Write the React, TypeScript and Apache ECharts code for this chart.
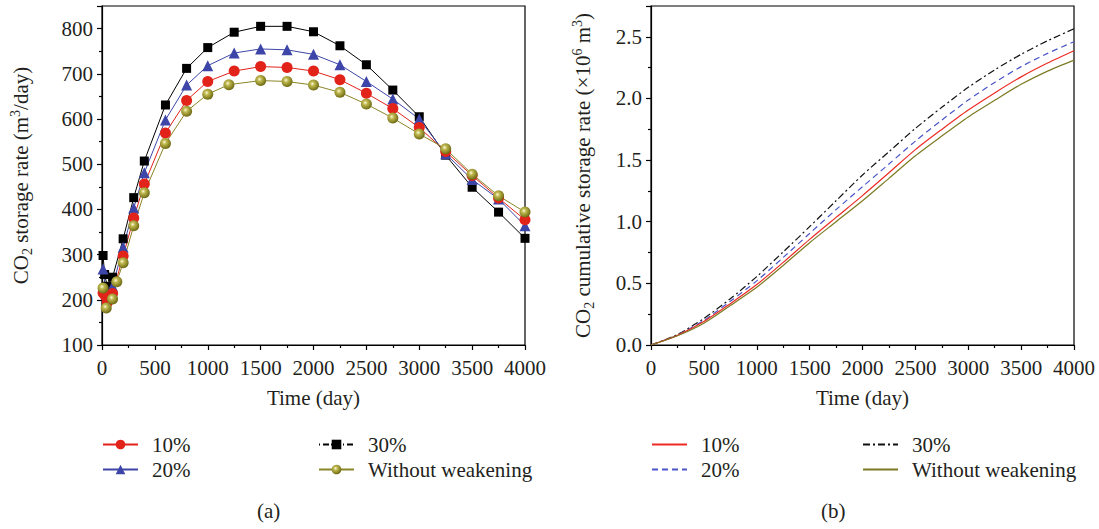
import React, { useEffect, useRef } from 'react';
import * as echarts from 'echarts';

// ---- (a) CO2 storage rate (m3/day) ----
const time30 = [10, 25, 50, 100, 200, 300, 400, 600, 800, 1000, 1250, 1500, 1750, 2000, 2250, 2500, 2750, 3000, 3250, 3500, 3750, 4000];
const rate30 = [298, 256, 230, 250, 335, 426, 507, 631, 712, 758, 792, 805, 805, 793, 762, 720, 664, 605, 520, 449, 394, 336];

const time20 = [10, 40, 100, 200, 300, 400, 600, 800, 1000, 1250, 1500, 1750, 2000, 2250, 2500, 2750, 3000, 3250, 3500, 3750, 4000];
const rate20 = [268, 211, 230, 316, 403, 481, 598, 675, 718, 746, 755, 753, 743, 720, 683, 644, 600, 523, 466, 423, 364];

const time10 = [10, 30, 50, 100, 200, 300, 400, 600, 800, 1000, 1250, 1500, 1750, 2000, 2250, 2500, 2750, 3000, 3250, 3500, 3750, 4000];
const rate10 = [215, 209, 194, 214, 297, 381, 456, 569, 641, 683, 706, 716, 714, 706, 687, 657, 623, 581, 528, 475, 425, 377];

const time0 = [10, 40, 100, 140, 200, 300, 400, 600, 800, 1000, 1200, 1500, 1750, 2000, 2250, 2500, 2750, 3000, 3250, 3500, 3750, 4000];
const rate0 = [226, 182, 202, 240, 282, 364, 437, 546, 617, 655, 676, 685, 683, 675, 659, 633, 602, 567, 534, 478, 430, 394];

// ---- (b) CO2 cumulative storage (x10^6 m3) ----
const cumTime = [0, 250, 500, 750, 1000, 1250, 1500, 1750, 2000, 2250, 2500, 2750, 3000, 3250, 3500, 3750, 4000];
const cum30 = [0, 0.085, 0.215, 0.375, 0.555, 0.755, 0.96, 1.17, 1.379, 1.568, 1.757, 1.928, 2.09, 2.232, 2.358, 2.468, 2.565];
const cum20 = [0, 0.08, 0.2, 0.355, 0.52, 0.71, 0.905, 1.098, 1.284, 1.468, 1.654, 1.825, 1.987, 2.13, 2.258, 2.366, 2.46];
const cum10 = [0, 0.078, 0.19, 0.335, 0.49, 0.67, 0.857, 1.035, 1.212, 1.397, 1.585, 1.749, 1.906, 2.045, 2.175, 2.287, 2.387];
const cum0 = [0, 0.075, 0.177, 0.32, 0.468, 0.645, 0.83, 1.0, 1.17, 1.352, 1.535, 1.695, 1.85, 1.985, 2.115, 2.222, 2.311];

const names = ['10%', '20%', '30%', 'Without weakening'];

const FONT = '"Liberation Serif", "Times New Roman", serif';
const TXT = '#231f20';
const FS = 21;

const zip = (xs: number[], ys: number[]) => xs.map((x, i) => [x, ys[i]]);

const RED = '#e2231a';
const BLUE = '#3d46a8';
const BLACK = '#000000';
const OLIVE = '#8a8526';

const sphere = {
  type: 'radial', x: 0.4, y: 0.38, r: 0.62,
  colorStops: [
    { offset: 0, color: '#fdfbe6' },
    { offset: 0.3, color: '#c2bb52' },
    { offset: 1, color: '#6e6a12' },
  ],
};

export default function App() {
  const ref = useRef<HTMLDivElement>(null);
  useEffect(() => {
    if (!ref.current) return;
    const chart = echarts.init(ref.current, undefined, { renderer: 'svg' });
    const labelStyle = { fontFamily: FONT, fontSize: FS, color: TXT };
    const nameStyle = {
      fontFamily: FONT, fontSize: FS, color: TXT,
      rich: {
        n: { fontFamily: FONT, fontSize: FS, color: TXT, lineHeight: 26 },
        sub: { fontFamily: FONT, fontSize: 14, color: TXT, verticalAlign: 'bottom', lineHeight: 14 },
        sup: { fontFamily: FONT, fontSize: 14, color: TXT, verticalAlign: 'top', lineHeight: 16 },
      },
    };
    const axLine = { show: true, lineStyle: { color: '#000', width: 1.2 } };
    const tick = { show: true, length: 5, lineStyle: { color: '#000', width: 1.2 } };
    const minor = { show: true, splitNumber: 2, length: 3, lineStyle: { color: '#000', width: 1.2 } };

    const xAxisBase = (gi: number) => ({
      type: 'value', gridIndex: gi, min: 0, max: 4000, interval: 500,
      axisLine: axLine, axisTick: tick, minorTick: minor,
      splitLine: { show: false },
      axisLabel: { ...labelStyle, margin: 12, formatter: (v: number) => String(v) },
      name: 'Time (day)', nameLocation: 'middle', nameGap: 42,
      nameTextStyle: { fontFamily: FONT, fontSize: FS, color: TXT },
    });

    const legendBase = {
      orient: 'vertical', itemWidth: 35, itemHeight: 12, itemGap: 4, padding: 0,
      textStyle: { fontFamily: FONT, fontSize: FS, color: TXT, padding: [0, 0, 0, 9] },
      formatter: (n: string) => n.replace(/^b:/, ''),
      selectedMode: false,
    };
    const noSym = { itemStyle: { opacity: 0 } };

    chart.setOption({
      animation: false,
      grid: [
        { left: 102, top: 6, width: 423, height: 339, show: true, borderColor: '#000', borderWidth: 1.2 },
        { left: 651, top: 6, width: 423, height: 339, show: true, borderColor: '#000', borderWidth: 1.2 },
      ],
      xAxis: [xAxisBase(0), xAxisBase(1)],
      yAxis: [
        {
          type: 'value', gridIndex: 0, min: 100, max: 850, interval: 100,
          axisLine: axLine, axisTick: tick, minorTick: minor, splitLine: { show: false },
          axisLabel: { ...labelStyle, margin: 9, showMaxLabel: false },
          name: '{n|CO}{sub|2}{n| storage rate (m}{sup|3}{n|/day)}',
          nameLocation: 'middle', nameGap: 68, nameTextStyle: nameStyle,
        },
        {
          type: 'value', gridIndex: 1, min: 0, max: 2.75, interval: 0.5,
          axisLine: axLine, axisTick: tick, minorTick: minor, splitLine: { show: false },
          axisLabel: { ...labelStyle, margin: 9, showMaxLabel: false, formatter: (v: number) => v.toFixed(1) },
          name: '{n|CO}{sub|2}{n| cumulative storage rate (×10}{sup|6}{n| m}{sup|3}{n|)}',
          nameLocation: 'middle', nameGap: 55, nameTextStyle: nameStyle,
        },
      ],
      legend: [
        { ...legendBase, left: 102, top: 434, data: ['10%', '20%'] },
        { ...legendBase, left: 318, top: 434, data: [{ name: '30%', lineStyle: { type: [1, 3, 6, 2] } }, 'Without weakening'] },
        { ...legendBase, left: 651, top: 434, data: [{ name: 'b:10%', ...noSym }, { name: 'b:20%', ...noSym }] },
        { ...legendBase, left: 862, top: 434, data: [{ name: 'b:30%', ...noSym }, { name: 'b:Without weakening', ...noSym }] },
      ],
      series: [
        {
          name: names[2], type: 'line', xAxisIndex: 0, yAxisIndex: 0, data: zip(time30, rate30),
          symbol: 'rect', symbolSize: 9, lineStyle: { color: BLACK, width: 1 }, itemStyle: { color: BLACK },
        },
        {
          name: names[1], type: 'line', xAxisIndex: 0, yAxisIndex: 0, data: zip(time20, rate20),
          symbol: 'triangle', symbolSize: 11, lineStyle: { color: BLUE, width: 1 }, itemStyle: { color: BLUE },
        },
        {
          name: names[0], type: 'line', xAxisIndex: 0, yAxisIndex: 0, data: zip(time10, rate10),
          symbol: 'circle', symbolSize: 11, lineStyle: { color: RED, width: 1 }, itemStyle: { color: RED },
        },
        {
          name: names[3], type: 'line', xAxisIndex: 0, yAxisIndex: 0, data: zip(time0, rate0),
          symbol: 'circle', symbolSize: 11, lineStyle: { color: OLIVE, width: 1 }, itemStyle: { color: sphere },
        },
        {
          name: 'b:' + names[2], type: 'line', xAxisIndex: 1, yAxisIndex: 1, data: zip(cumTime, cum30),
          symbol: 'none', smooth: 0.25, lineStyle: { color: '#111', width: 1.2, type: [7, 3, 2, 3] }, itemStyle: { color: '#111' },
        },
        {
          name: 'b:' + names[1], type: 'line', xAxisIndex: 1, yAxisIndex: 1, data: zip(cumTime, cum20),
          symbol: 'none', smooth: 0.25, lineStyle: { color: '#4a55c8', width: 1.2, type: [6, 4] }, itemStyle: { color: '#4a55c8' },
        },
        {
          name: 'b:' + names[0], type: 'line', xAxisIndex: 1, yAxisIndex: 1, data: zip(cumTime, cum10),
          symbol: 'none', smooth: 0.25, lineStyle: { color: '#ee2a24', width: 1.2 }, itemStyle: { color: '#ee2a24' },
        },
        {
          name: 'b:' + names[3], type: 'line', xAxisIndex: 1, yAxisIndex: 1, data: zip(cumTime, cum0),
          symbol: 'none', smooth: 0.25, lineStyle: { color: '#7d7a22', width: 1.2 }, itemStyle: { color: '#7d7a22' },
        },
      ],
      graphic: [
        { type: 'text', left: 257, top: 500, style: { text: '(a)', font: `${FS}px ${FONT}`, fill: TXT } },
        { type: 'text', left: 821, top: 500, style: { text: '(b)', font: `${FS}px ${FONT}`, fill: TXT } },
      ],
    });
    return () => chart.dispose();
  }, []);
  return (
    <div
      ref={ref}
      style={{ position: 'fixed', left: 0, top: 0, width: 1099, height: 529, background: '#fff' }}
    />
  );
}
